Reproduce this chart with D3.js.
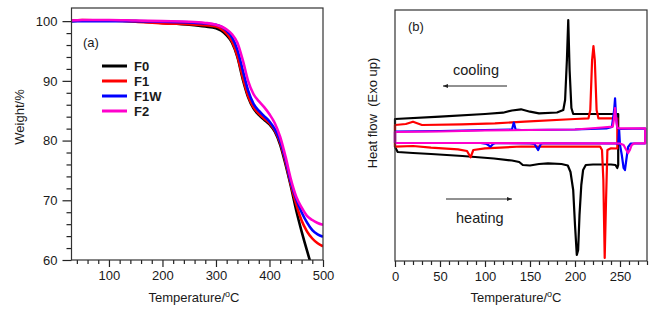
<!DOCTYPE html>
<html><head><meta charset="utf-8">
<script src="https://cdn.jsdelivr.net/npm/d3@7"></script>
<style>body{margin:0;background:#fff}svg{display:block}text{font-family:"Liberation Sans",Arial,sans-serif;fill:#1a1a1a}</style>
</head><body><svg id="c" width="660" height="313"></svg>
<script>
// ---------- TGA data (panel a) ----------
const tgaT = [30,50,100,150,200,250,280,300,310,320,330,340,350,360,370,380,390,400,410,420,430,440,450,460,470,480,490,500];
const tgaF0  = [100.0,100.1,100.1,100.0,99.7,99.4,99.1,98.8,98.4,97.6,96.4,94.0,90.3,87.3,85.4,84.3,83.5,82.7,81.5,79.3,76.0,72.3,68.3,64.8,61.6,58.6,55.8,53.0];
const tgaF1  = [100.1,100.2,100.1,99.9,99.6,99.5,99.3,99.1,98.7,97.9,96.6,94.2,90.6,87.5,85.6,84.5,83.7,82.9,81.7,79.6,76.4,72.6,69.3,66.6,64.8,63.6,62.8,62.3];
const tgaF1W = [100.0,100.0,100.0,100.0,99.9,99.8,99.6,99.4,99.1,98.4,97.3,95.2,91.8,88.4,86.2,85.0,84.1,83.2,81.9,79.9,76.8,73.0,70.2,68.0,66.3,65.0,64.3,63.9];
const tgaF2  = [100.1,100.2,100.2,100.1,100.0,99.9,99.7,99.4,99.1,98.6,97.8,96.4,93.5,90.0,87.8,86.6,85.6,84.4,82.9,80.6,77.3,73.5,70.6,68.8,67.4,66.7,66.2,65.9];
const seriesNames = ["F0","F1","F1W","F2"];
const seriesColors = ["#000000","#ff0000","#0000ff","#ff00cc"];
const tgaXTicks = [100,200,300,400,500];
const tgaYTicks = [60,70,80,90,100];

// ---------- DSC data (panel b), heat flow in arbitrary units ----------
const f0HeatT = [0,3,20,40,75,110,130,138,142,150,160,170,185,192,195,198,200,202,203.5,205,207,209,212,220,240,245,247,248];
const f0HeatH = [11.4,10.9,10.8,10.7,10.5,10.25,10.05,9.9,9.6,9.55,9.7,9.77,9.7,9.55,8.9,7.1,3.6,0.6,1.1,4.6,7.6,9.1,9.6,9.65,9.65,9.6,9.3,9.6];
const f0CoolT = [248,240,220,205,198,196,194,192.5,191,189,187,180,160,150,140,130,120,100,50,0];
const f0CoolH = [14.7,14.7,14.7,14.7,14.7,15.3,19.1,24.1,20.1,16.1,15.1,14.85,14.77,14.93,15.17,15.05,14.83,14.7,14.43,14.2];

const f1HeatT = [0,20,40,70,80,84,87,100,140,180,228,230,231.5,233,234.5,236,240,247];
const f1HeatH = [11.43,11.5,11.33,11.17,11.0,10.37,11.1,11.27,11.45,11.43,11.43,11.1,8.1,0.3,6.1,11.1,11.27,11.25];
const f1CoolT = [247,240,226,224,222,220.5,219,217,215,200,144,111,74,30,20,12,0];
const f1CoolH = [14.27,14.27,14.27,15.1,20.1,21.5,20.1,15.1,14.27,14.2,13.93,13.77,13.67,13.6,13.93,13.7,13.6];

const f1wHeatT = [0,95,102,106,109,112,150,155,159,162,165,245,248,249,250,252,254,255.5,257,259,262,278];
const f1wHeatH = [11.8,11.8,11.7,11.43,11.7,11.8,11.77,11.7,11.1,11.7,11.77,11.75,11.7,13.2,11.6,10.6,9.3,9.1,10.1,11.4,11.75,11.77];
const f1wCoolT = [278,250,247,245.5,244.5,243.5,241,235,200,140,134,132,130,100,50,0];
const f1wCoolH = [13.25,13.2,13.3,14.6,16.27,15.1,13.4,13.25,13.15,13.1,13.15,13.85,13.15,13.1,13.0,12.95];

const f2HeatT = [0,100,200,245,250,254,257,259,261,263,266,278];
const f2HeatH = [11.8,11.8,11.77,11.77,11.75,11.6,11.1,10.8,11.1,11.6,11.77,11.77];
const f2CoolT = [278,250,247,245.5,244.5,243.5,242,230,200,100,50,0];
const f2CoolH = [13.27,13.27,13.3,14.3,15.3,14.3,13.43,13.35,13.15,13.05,12.95,12.9];
const dscXTicks = [0,50,100,150,200,250];

// ---------- drawing ----------
const svg = d3.select("#c");
const font = '"Liberation Sans", Arial, sans-serif';

const xA = d3.scaleLinear().domain([30,500]).range([71.5,323]);
const yA = d3.scaleLinear().domain([60,102.2]).range([260,8]);
const xB = d3.scaleLinear().domain([0,280]).range([395,647]);
const yB = d3.scaleLinear().domain([0,25.1]).range([261,10]);

function styleAxis(g){
  g.select(".domain").remove();
  g.selectAll("line").attr("stroke","#222").attr("stroke-width",1.2);
  g.selectAll("text").attr("font-size",13).attr("font-family",font).attr("fill","#1a1a1a");
}

// ---- Panel a ----
svg.append("defs").append("clipPath").attr("id","clipA").append("rect")
  .attr("x",71.5).attr("y",8).attr("width",323-71.5).attr("height",252);

const gA = svg.append("g");
const axA = gA.append("g").attr("transform","translate(0,260)")
  .call(d3.axisBottom(xA).tickValues(tgaXTicks).tickSize(7).tickPadding(4));
styleAxis(axA);
const axAm = gA.append("g").attr("transform","translate(0,260)")
  .call(d3.axisBottom(xA).tickValues(d3.range(40,501,20).filter(v=>v%100)).tickSize(4).tickFormat(""));
styleAxis(axAm);
const ayA = gA.append("g").attr("transform","translate(71.5,0)")
  .call(d3.axisLeft(yA).tickValues(tgaYTicks).tickSize(9).tickPadding(5));
styleAxis(ayA);
const ayAm = gA.append("g").attr("transform","translate(71.5,0)")
  .call(d3.axisLeft(yA).tickValues(d3.range(62,102,2).filter(v=>v%10)).tickSize(5).tickFormat(""));
styleAxis(ayAm);

const tgaSeries = [tgaF0,tgaF1,tgaF1W,tgaF2];
const lineA = d3.line().x(d=>xA(d[0])).y(d=>yA(d[1])).curve(d3.curveMonotoneX);
[0,1,2,3].forEach(i=>{
  gA.append("path").datum(tgaT.map((t,k)=>[t,tgaSeries[i][k]]))
    .attr("d",lineA).attr("fill","none").attr("stroke",seriesColors[i])
    .attr("stroke-width",2.6).attr("clip-path","url(#clipA)");
});
gA.append("rect").attr("x",71.5).attr("y",8).attr("width",323-71.5).attr("height",252)
  .attr("fill","none").attr("stroke","#333").attr("stroke-width",1.2);

gA.append("text").attr("x",83).attr("y",47).attr("font-size",13).text("(a)");
seriesNames.forEach((n,i)=>{
  const y = 66 + i*15;
  gA.append("line").attr("x1",102).attr("x2",127).attr("y1",y).attr("y2",y)
    .attr("stroke",seriesColors[i]).attr("stroke-width",3);
  gA.append("text").attr("x",134).attr("y",y+4.5).attr("font-size",13)
    .attr("font-weight","bold").text(n);
});
const tA = gA.append("text").attr("x",194).attr("y",302).attr("text-anchor","middle").attr("font-size",13);
tA.append("tspan").text("Temperature/");
tA.append("tspan").attr("font-size",9).attr("dy",-5).text("o");
tA.append("tspan").attr("dy",5).text("C");
gA.append("text").attr("transform","translate(24,117) rotate(-90)")
  .attr("text-anchor","middle").attr("font-size",13).text("Weight/%");

// ---- Panel b ----
const gB = svg.append("g");
const axB = gB.append("g").attr("transform","translate(0,261)")
  .call(d3.axisBottom(xB).tickValues(dscXTicks).tickSize(6).tickPadding(5));
styleAxis(axB);
const axBm = gB.append("g").attr("transform","translate(0,261)")
  .call(d3.axisBottom(xB).tickValues(d3.range(10,281,10).filter(v=>v%50)).tickSize(4).tickFormat(""));
styleAxis(axBm);

const dscSets = [
  [f0HeatT,f0HeatH,f0CoolT,f0CoolH],
  [f1HeatT,f1HeatH,f1CoolT,f1CoolH],
  [f1wHeatT,f1wHeatH,f1wCoolT,f1wCoolH],
  [f2HeatT,f2HeatH,f2CoolT,f2CoolH]
];
const lineB = d3.line().x(d=>xB(d[0])).y(d=>yB(d[1]));
dscSets.forEach((s,i)=>{
  const pts = s[0].map((t,k)=>[t,s[1][k]]).concat(s[2].map((t,k)=>[t,s[3][k]]));
  pts.push([s[0][0],s[1][0]]);
  gB.append("path").datum(pts).attr("d",lineB).attr("fill","none")
    .attr("stroke",seriesColors[i]).attr("stroke-width",2.2).attr("stroke-linejoin","round");
});
gB.append("rect").attr("x",395).attr("y",10).attr("width",252).attr("height",251)
  .attr("fill","none").attr("stroke","#333").attr("stroke-width",1.2);

gB.append("text").attr("x",408).attr("y",31).attr("font-size",13).text("(b)");
gB.append("text").attr("x",453).attr("y",75).attr("font-size",14.5).text("cooling");
gB.append("text").attr("x",456).attr("y",223).attr("font-size",14.5).text("heating");

const defs = svg.select("defs");
defs.append("marker").attr("id","ah").attr("viewBox","0 0 10 10").attr("refX",10).attr("refY",5)
  .attr("markerWidth",7).attr("markerHeight",5).attr("orient","auto").attr("markerUnits","userSpaceOnUse")
  .append("path").attr("d","M0,1 L10,5 L0,9 Z").attr("fill","#222");
gB.append("line").attr("x1",507).attr("x2",443).attr("y1",86).attr("y2",86)
  .attr("stroke","#222").attr("stroke-width",1).attr("marker-end","url(#ah)");
gB.append("line").attr("x1",446).attr("x2",512).attr("y1",199).attr("y2",199)
  .attr("stroke","#222").attr("stroke-width",1).attr("marker-end","url(#ah)");

const tB = gB.append("text").attr("x",516).attr("y",302).attr("text-anchor","middle").attr("font-size",13);
tB.append("tspan").text("Temperature/");
tB.append("tspan").attr("font-size",9).attr("dy",-5).text("o");
tB.append("tspan").attr("dy",5).text("C");
gB.append("text").attr("transform","translate(377,113) rotate(-90)")
  .attr("text-anchor","middle").attr("font-size",13).attr("xml:space","preserve").text("Heat flow  (Exo up)");
</script></body></html>
